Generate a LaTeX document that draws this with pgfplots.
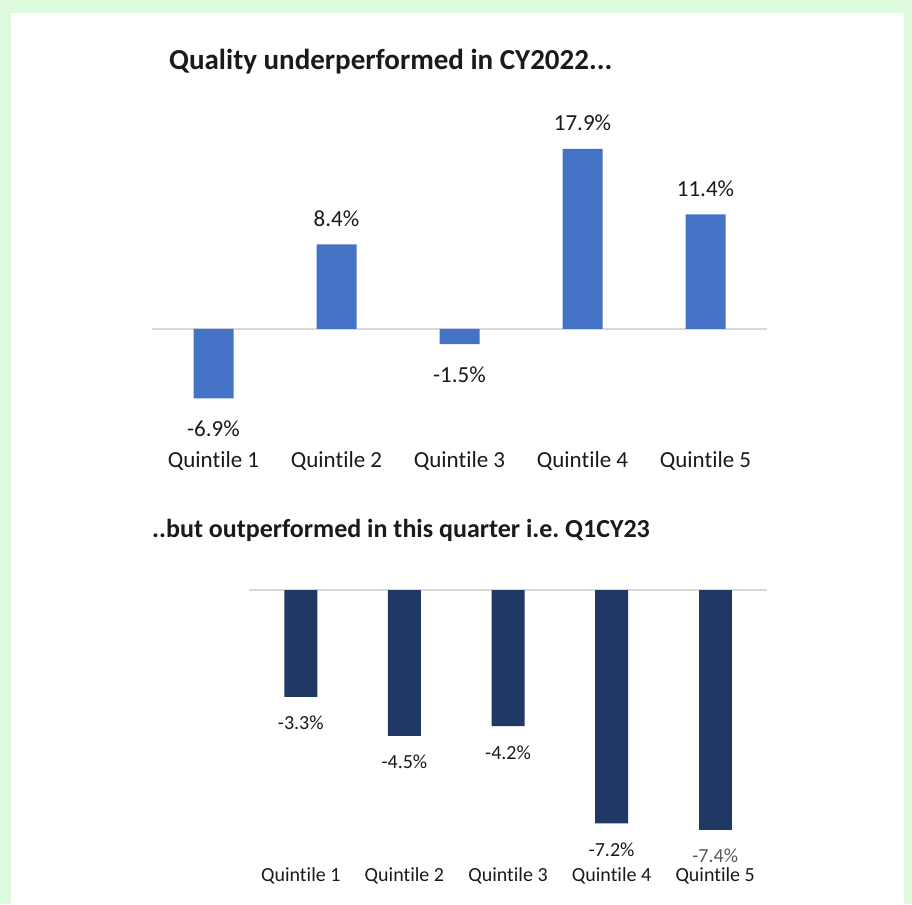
\documentclass[border=0pt]{standalone}
\usepackage{pgfplots}
\pgfplotsset{compat=1.18}
\usepackage{fontspec}
\setmainfont{Carlito}[Ligatures=NoCommon]
\definecolor{bgreen}{HTML}{DDF9DE}
\definecolor{xlblue}{HTML}{4472C4}
\definecolor{navy}{HTML}{203864}
\definecolor{zline}{HTML}{D9D9D9}
\definecolor{txt}{HTML}{1A1A1A}
\definecolor{gtxt}{HTML}{595959}
\frenchspacing
\begin{document}
\begin{tikzpicture}[x=1pt,y=1pt]
\fill[bgreen] (0,0) rectangle (912,904);
\fill[white] (11,0) rectangle (904,891);
\node[anchor=base west, font=\fontsize{29}{34}\selectfont\bfseries, text=txt, inner sep=0] at (169,834) {Quality underperformed in CY2022...};
\node[anchor=base west, font=\fontsize{26}{31}\selectfont\bfseries, text=txt, inner sep=0] at (152,366) {..but outperformed in this quarter i.e. Q1CY23};

\begin{axis}[at={(152pt,454.3pt)}, anchor=south west, scale only axis,
  width=615pt, height=321.9pt, xmin=-0.5, xmax=4.5, ymin=-12, ymax=20,
  axis line style={draw=none}, tick style={draw=none}, ytick=\empty,
  xtick={0,1,2,3,4}, xticklabels={Quintile 1,Quintile 2,Quintile 3,Quintile 4,Quintile 5},
  xticklabel style={anchor=base, yshift=-18.3pt, font=\fontsize{23}{27}\selectfont, text=txt},
  extra y ticks={0}, extra y tick labels={},
  extra y tick style={grid=major, major grid style={zline, line width=2pt}, tick style={draw=none}},
  clip=false]
\addplot[ybar, bar width=40pt, bar shift=0pt, fill=xlblue, draw=none,
  point meta=explicit symbolic, nodes near coords,
  nodes near coords style={anchor=base, yshift=18pt, font=\fontsize{23}{27}\selectfont, text=txt}]
  coordinates {(1,8.4)[8.4\%] (3,17.9)[17.9\%] (4,11.4)[11.4\%]};
\addplot[ybar, bar width=40pt, bar shift=0pt, fill=xlblue, draw=none,
  point meta=explicit symbolic, nodes near coords,
  nodes near coords style={anchor=base, yshift=-38pt, font=\fontsize{23}{27}\selectfont, text=txt}]
  coordinates {(0,-6.9)[-6.9\%] (2,-1.5)[-1.5\%]};
\end{axis}

\begin{axis}[at={(249pt,38.6pt)}, anchor=south west, scale only axis,
  width=518pt, height=291.6pt, xmin=-0.5, xmax=4.5, ymin=-8.5, ymax=0.5,
  axis line style={draw=none}, tick style={draw=none}, ytick=\empty,
  xtick={0,1,2,3,4}, xticklabels={Quintile 1,Quintile 2,Quintile 3,Quintile 4,Quintile 5},
  xticklabel style={anchor=base, yshift=-16.6pt, font=\fontsize{20}{24}\selectfont, text=txt},
  extra y ticks={0}, extra y tick labels={},
  extra y tick style={grid=major, major grid style={zline, line width=2pt}, tick style={draw=none}},
  clip=false]
\addplot[ybar, bar width=33pt, bar shift=0pt, fill=navy, draw=none,
  point meta=explicit symbolic, nodes near coords,
  nodes near coords style={anchor=base, yshift=-33pt, font=\fontsize{20}{24}\selectfont, text=txt}]
  coordinates {(0,-3.3)[-3.3\%] (1,-4.5)[-4.5\%] (2,-4.2)[-4.2\%] (3,-7.2)[-7.2\%]};
\addplot[ybar, bar width=33pt, bar shift=0pt, fill=navy, draw=none,
  point meta=explicit symbolic, nodes near coords,
  nodes near coords style={anchor=base, yshift=-33pt, font=\fontsize{20}{24}\selectfont, text=gtxt}]
  coordinates {(4,-7.4)[-7.4\%]};
\end{axis}
\end{tikzpicture}
\end{document}
